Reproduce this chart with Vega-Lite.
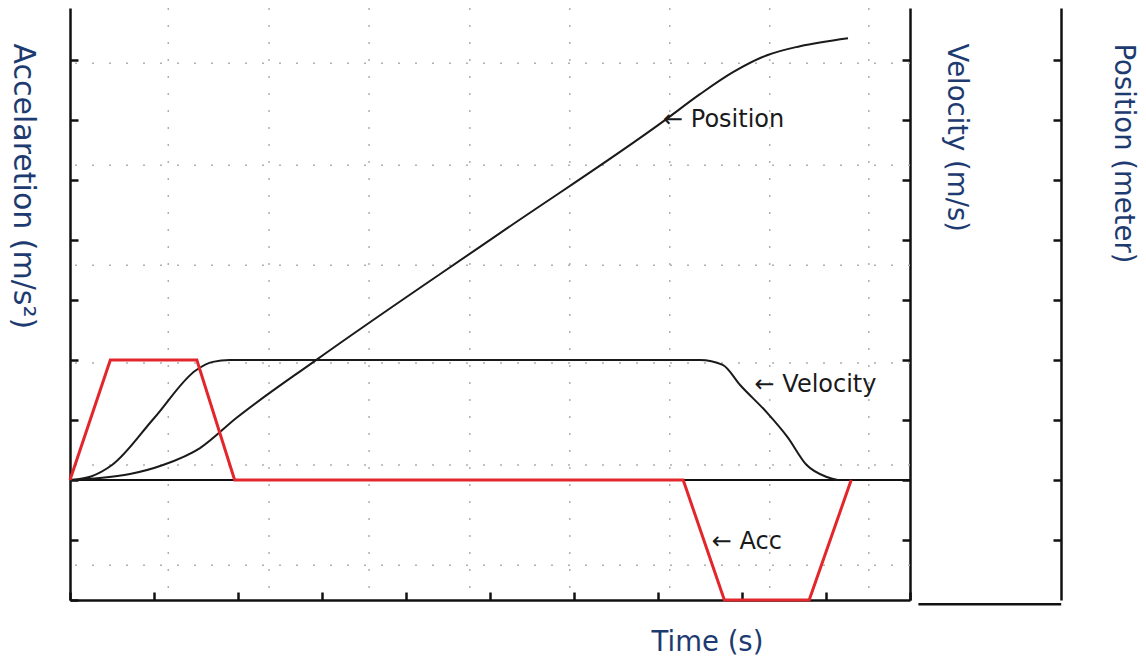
{
  "$schema": "https://vega.github.io/schema/vega-lite/v6.json",
  "autosize": {"type": "none"},
  "padding": {"left": 70, "top": 8, "right": 236, "bottom": 63},
  "width": 840,
  "height": 592,
  "background": "white",
  "config": {
    "view": {"stroke": null},
    "font": "DejaVu Sans",
    "axis": {"labels": false, "grid": false, "domainColor": "#111", "domainWidth": 2.5, "tickColor": "#111", "tickWidth": 2.5, "titleFont": "DejaVu Sans", "titleFontWeight": "normal", "titleColor": "#1d3b70", "titlePadding": 0}
  },
  "datasets": {
    "acc": [{"t": 0, "a": 0}, {"t": 0.48, "a": 2}, {"t": 1.51, "a": 2}, {"t": 1.96, "a": 0}, {"t": 7.3, "a": 0}, {"t": 7.79, "a": -2}, {"t": 8.8, "a": -2}, {"t": 9.3, "a": 0}],
    "vel": [{"t": 0, "v": 0}, {"t": 0.25, "v": 0.06}, {"t": 0.5, "v": 0.25}, {"t": 1.0, "v": 1.03}, {"t": 1.5, "v": 1.83}, {"t": 1.7, "v": 1.97}, {"t": 1.9, "v": 2.0}, {"t": 7.5, "v": 2.0}, {"t": 7.77, "v": 1.92}, {"t": 7.98, "v": 1.58}, {"t": 8.3, "v": 1.12}, {"t": 8.54, "v": 0.72}, {"t": 8.77, "v": 0.25}, {"t": 9.01, "v": 0.05}, {"t": 9.14, "v": 0}],
    "pos": [{"t": 0, "p": 0}, {"t": 0.357, "p": 0.033}, {"t": 0.714, "p": 0.1}, {"t": 1.107, "p": 0.25}, {"t": 1.548, "p": 0.533}, {"t": 1.976, "p": 1.03}, {"t": 2.929, "p": 2.0}, {"t": 5.119, "p": 4.117}, {"t": 7.083, "p": 6.0}, {"t": 7.5, "p": 6.433}, {"t": 7.893, "p": 6.8}, {"t": 8.298, "p": 7.083}, {"t": 8.69, "p": 7.233}, {"t": 9.262, "p": 7.367}],
    "gridx": [{"g": 1.17}, {"g": 2.37}, {"g": 3.56}, {"g": 4.76}, {"g": 5.95}, {"g": 7.14}, {"g": 8.33}, {"g": 9.51}],
    "gridy": [{"g": 6.95}, {"g": 5.25}, {"g": 3.58}, {"g": 1.95}, {"g": 0.25}, {"g": -1.42}],
    "labels": [{"t": 7.06, "y": 6.0, "label": "← Position"}, {"t": 8.15, "y": 1.58, "label": "← Velocity"}, {"t": 7.64, "y": -1.03, "label": "← Acc"}],
    "ext": [{"t": 10.1, "t2": 11.8, "y": -2.07}]
  },
  "resolve": {"axis": {"y": "independent"}},
  "layer": [
    {
      "data": {"name": "gridx"},
      "mark": {"type": "rule", "color": "#b0b0b0", "strokeWidth": 1.5, "strokeDash": [2, 15]},
      "encoding": {"x": {"field": "g", "type": "quantitative", "scale": {"domain": [0, 10]},
        "axis": {"orient": "bottom", "values": [0, 1, 2, 3, 4, 5, 6, 7, 8, 9, 10], "tickSize": -8, "title": "Time (s)", "titleFontSize": 27.5, "titleAlign": "center", "titleBaseline": "middle", "titleAngle": 0, "titleX": 637, "titleY": 42}}}
    },
    {
      "data": {"name": "gridy"},
      "mark": {"type": "rule", "color": "#b0b0b0", "strokeWidth": 1.5, "strokeDash": [2, 15]},
      "encoding": {"y": {"field": "g", "type": "quantitative", "scale": {"domain": [-2, 7.87]}, "axis": null}}
    },
    {
      "data": {"values": [{}]},
      "mark": {"type": "rule", "color": "#111", "strokeWidth": 2},
      "encoding": {"y": {"datum": 0, "type": "quantitative", "scale": {"domain": [-2, 7.87]}, "axis": null}}
    },
    {
      "data": {"name": "vel"},
      "mark": {"type": "line", "color": "#1a1a1a", "strokeWidth": 2, "interpolate": "monotone"},
      "encoding": {
        "x": {"field": "t", "type": "quantitative", "scale": {"domain": [0, 10]}},
        "y": {"field": "v", "type": "quantitative", "scale": {"domain": [-2, 7.87]},
          "axis": {"orient": "right", "values": [-1, 0, 1, 2, 3, 4, 5, 6, 7], "tickSize": -8, "title": "Velocity (m/s)", "titleFontSize": 27.5, "titleAngle": 90, "titleAlign": "left", "titleBaseline": "middle", "titleX": 45, "titleY": 35}}
      }
    },
    {
      "data": {"name": "pos"},
      "mark": {"type": "line", "color": "#1a1a1a", "strokeWidth": 2, "interpolate": "monotone"},
      "encoding": {
        "x": {"field": "t", "type": "quantitative", "scale": {"domain": [0, 10]}},
        "y": {"field": "p", "type": "quantitative", "scale": {"domain": [-2, 7.87]},
          "axis": {"orient": "right", "offset": 151, "values": [-1, 0, 1, 2, 3, 4, 5, 6, 7], "tickSize": -8, "title": "Position (meter)", "titleFontSize": 27.5, "titleAngle": 90, "titleAlign": "left", "titleBaseline": "middle", "titleX": 61, "titleY": 35}}
      }
    },
    {
      "data": {"name": "acc"},
      "mark": {"type": "line", "color": "#e3262c", "strokeWidth": 3},
      "encoding": {
        "x": {"field": "t", "type": "quantitative", "scale": {"domain": [0, 10]}},
        "y": {"field": "a", "type": "quantitative", "scale": {"domain": [-2, 7.87]},
          "axis": {"orient": "left", "values": [-2, -1, 0, 1, 2, 3, 4, 5, 6, 7], "tickSize": -8, "title": "Accelaretion (m/s²)", "titleFontSize": 30, "titleAngle": 90, "titleAlign": "left", "titleBaseline": "middle", "titleX": -48, "titleY": 35}}
      }
    },
    {
      "data": {"name": "labels"},
      "mark": {"type": "text", "align": "left", "baseline": "middle", "fontSize": 24, "color": "#1a1a1a", "font": "DejaVu Sans"},
      "encoding": {
        "x": {"field": "t", "type": "quantitative", "scale": {"domain": [0, 10]}},
        "y": {"field": "y", "type": "quantitative", "scale": {"domain": [-2, 7.87]}, "axis": null},
        "text": {"field": "label"}
      }
    },
    {
      "data": {"name": "ext"},
      "mark": {"type": "rule", "color": "#111", "strokeWidth": 2.5},
      "encoding": {
        "x": {"field": "t", "type": "quantitative", "scale": {"domain": [0, 10]}},
        "x2": {"field": "t2"},
        "y": {"field": "y", "type": "quantitative", "scale": {"domain": [-2, 7.87]}, "axis": null}
      }
    }
  ]
}
